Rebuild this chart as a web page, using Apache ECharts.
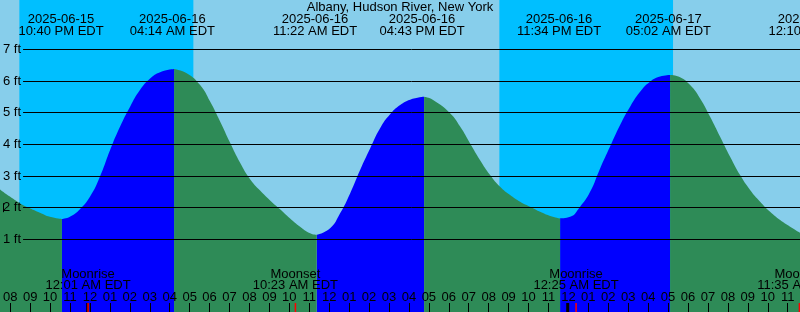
<!DOCTYPE html>
<html><head><meta charset="utf-8">
<script src="https://cdn.jsdelivr.net/npm/echarts@6/dist/echarts.min.js"></script>
<style>html,body{margin:0;padding:0;background:#87CEEB}#c{width:800px;height:312px}</style>
</head><body><div id="c"></div>
<script>
// ---------------- data ----------------
const stationTitle = 'Albany, Hudson River, New York';
// hours are measured from 2025-06-16 00:00 EDT
const viewStartHour = -4.385;   // left edge of the chart
const viewEndHour = 35.615;     // right edge of the chart
const firstHourTick = -4;
const lastHourTick = 35;
const levelTicks = [1, 7];      // first / last labelled level (ft)

// tide curve: time (h) and height (ft)
const tideHours = [
  -4.39, -3.89, -3.39, -2.89, -2.39, -1.89, -1.29, -0.89, -0.39, 0.12,
  0.62, 1.12, 1.62, 2.12, 2.62, 3.12, 3.62, 4.32, 4.97, 5.62,
  6.12, 6.62, 7.12, 7.62, 8.12, 8.62, 9.12, 9.62, 10.12, 10.62,
  11.12, 11.45, 12.12, 12.62, 13.12, 13.62, 14.12, 14.62, 15.12, 15.62,
  16.12, 16.82, 17.27, 18.12, 18.62, 19.12, 19.62, 20.12, 20.62, 21.12,
  21.62, 22.12, 22.62, 23.12, 23.62, 24.12, 24.62, 25.12, 25.62, 26.12,
  26.62, 27.12, 27.62, 28.12, 28.62, 29.12, 29.62, 30.12, 30.62, 31.12,
  31.62, 32.12, 32.62, 33.12, 33.62, 34.12, 34.62, 35.12, 35.62
];
const tideFeet = [
  2.58, 2.35, 2.14, 1.98, 1.84, 1.71, 1.64, 1.71, 1.95, 2.35,
  2.99, 3.82, 4.56, 5.19, 5.72, 6.08, 6.28, 6.38, 6.24, 5.87,
  5.35, 4.72, 4.05, 3.42, 2.90, 2.54, 2.23, 1.95, 1.66, 1.40,
  1.19, 1.14, 1.35, 1.82, 2.45, 3.19, 3.87, 4.51, 4.95, 5.24,
  5.41, 5.50, 5.40, 4.98, 4.56, 4.03, 3.50, 3.03, 2.66, 2.40,
  2.19, 2.03, 1.87, 1.74, 1.66, 1.71, 2.03, 2.50, 3.24, 3.93,
  4.61, 5.19, 5.66, 5.98, 6.14, 6.19, 6.12, 5.87, 5.45, 4.87,
  4.24, 3.61, 3.03, 2.56, 2.19, 1.87, 1.61, 1.40, 1.21
];

// high / low tide events
const extremeDates = ['2025-06-15', '2025-06-16', '2025-06-16', '2025-06-16', '2025-06-16', '2025-06-17', '2025-06-17'];
const extremeTimes = ['10:40 PM EDT', '04:14 AM EDT', '11:22 AM EDT', '04:43 PM EDT', '11:34 PM EDT', '05:02 AM EDT', '12:10 PM EDT'];

// moon events
const moonNames = ['Moonrise', 'Moonset', 'Moonrise', 'Moonset'];
const moonDates = ['2025-06-16', '2025-06-16', '2025-06-17', '2025-06-17'];
const moonTimes = ['12:01 AM EDT', '10:23 AM EDT', '12:25 AM EDT', '11:35 AM EDT'];

// night (sunset -> sunrise)
const nightStartDates = ['2025-06-15', '2025-06-16'];
const nightStartTimes = ['08:35 PM', '08:35 PM'];
const nightEndDates = ['2025-06-16', '2025-06-17'];
const nightEndTimes = ['05:17 AM', '05:16 AM'];

// day boundaries (midnight ticks)
const midnightDates = ['2025-06-16', '2025-06-17'];

// mark
const markDate = '2025-06-15';
const markTime = '07:47 PM';
const markLevel = 2;

// ---------------- helpers ----------------
function toHours(date, time) {
  const p = date.split('-').map(Number);
  const dayH = (Date.UTC(p[0], p[1] - 1, p[2]) - Date.UTC(2025, 5, 16)) / 3600000;
  if (!time) return dayH;
  const m = time.match(/(\d+):(\d+)\s*(AM|PM)/);
  let h = (+m[1]) % 12;
  if (m[3] === 'PM') h += 12;
  return dayH + h + (+m[2]) / 60;
}
const FONT = '13px "Liberation Sans", Arial, sans-serif';
const FT_PX = 31.667, ZERO_Y = 271, H = 312;

const n = tideHours.length;
const rising = [], falling = [];
for (let i = 0; i < n; i++) {
  const upNext = i < n - 1 ? tideFeet[i + 1] > tideFeet[i] : tideFeet[i] > tideFeet[i - 1];
  const upPrev = i > 0 ? tideFeet[i] > tideFeet[i - 1] : upNext;
  rising.push([tideHours[i], (upNext || upPrev) ? tideFeet[i] : '-']);
  falling.push([tideHours[i], (!upNext || !upPrev) ? tideFeet[i] : '-']);
}
const nights = nightStartDates.map((d, i) => [toHours(d, nightStartTimes[i]), toHours(nightEndDates[i], nightEndTimes[i])]);
const extremes = extremeDates.map((d, i) => [toHours(d, extremeTimes[i]), 0]);
const moons = moonDates.map((d, i) => [toHours(d, moonTimes[i]), 0]);
const midnights = midnightDates.map(d => [toHours(d), 0]);

const chart = echarts.init(document.getElementById('c'), null, { renderer: 'canvas' });
const yMax = ZERO_Y / FT_PX, yMin = -(H - ZERO_Y) / FT_PX;

const option = {
  backgroundColor: '#87CEEB',
  animation: false,
  title: {
    text: stationTitle, left: 'center', top: 1, padding: 0,
    textStyle: { fontSize: 13, fontWeight: 'normal', fontFamily: '"Liberation Sans", Arial, sans-serif', color: '#000' }
  },
  grid: [
    { left: 0, right: 0, top: 0, bottom: 0 },
    { left: 22, right: 0, top: ZERO_Y - levelTicks[1] * FT_PX, bottom: H - (ZERO_Y - levelTicks[0] * FT_PX) },
    { left: 87.7 + firstHourTick * 20, right: 800 - (87.7 + lastHourTick * 20), top: 100, bottom: 0 }
  ],
  xAxis: [
    { gridIndex: 0, type: 'value', min: viewStartHour, max: viewEndHour, show: false },
    { gridIndex: 1, type: 'value', min: viewStartHour, max: viewEndHour, show: false },
    {
      gridIndex: 2, type: 'value', min: firstHourTick, max: lastHourTick, interval: 1, z: 10,
      position: 'bottom',
      axisLine: { show: false },
      splitLine: { show: false },
      axisTick: { show: true, inside: true, length: 9, lineStyle: { color: '#000', width: 1 } },
      axisLabel: {
        show: true, inside: true, margin: 8, color: '#000', fontSize: 13,
        fontFamily: '"Liberation Sans", Arial, sans-serif', showMinLabel: true, showMaxLabel: true,
        formatter: v => { const h = ((v % 12) + 12) % 12 || 12; return (h < 10 ? '0' : '') + h; }
      }
    }
  ],
  yAxis: [
    { gridIndex: 0, type: 'value', min: yMin, max: yMax, show: false },
    {
      gridIndex: 1, type: 'value', min: levelTicks[0], max: levelTicks[1], interval: 1, z: 10,
      axisLine: { show: false }, axisTick: { show: false },
      splitLine: { show: true, lineStyle: { color: '#000', width: 1 } },
      axisLabel: {
        margin: 2, color: '#000', fontSize: 13, fontFamily: '"Liberation Sans", Arial, sans-serif',
        formatter: '{value} ft'
      }
    },
    { gridIndex: 2, type: 'value', show: false, min: 0, max: 1 }
  ],
  series: [
    {
      name: 'night', type: 'custom', xAxisIndex: 0, yAxisIndex: 0, z: 1, silent: true,
      data: nights,
      renderItem(params, api) {
        const x0 = api.coord([api.value(0), 0])[0];
        const x1 = api.coord([api.value(1), 0])[0];
        return { type: 'rect', shape: { x: x0, y: 0, width: x1 - x0, height: H }, style: { fill: '#00BFFF' } };
      }
    },
    {
      name: 'rising', type: 'line', xAxisIndex: 0, yAxisIndex: 0, z: 2, silent: true,
      data: rising, symbol: 'none', smooth: 0.5, connectNulls: false,
      lineStyle: { width: 0, opacity: 0 },
      areaStyle: { color: '#0000FF', opacity: 1, origin: 'start' }
    },
    {
      name: 'falling', type: 'line', xAxisIndex: 0, yAxisIndex: 0, z: 2, silent: true,
      data: falling, symbol: 'none', smooth: 0.5, connectNulls: false,
      lineStyle: { width: 0, opacity: 0 },
      areaStyle: { color: '#2E8B57', opacity: 1, origin: 'start' }
    },
    {
      name: 'extremes', type: 'custom', xAxisIndex: 0, yAxisIndex: 0, z: 6, silent: true, clip: false,
      data: extremes,
      renderItem(params, api) {
        const x = api.coord([api.value(0), 0])[0];
        const i = params.dataIndex;
        return {
          type: 'group', children: [
            { type: 'text', style: { x, y: 19.5, text: extremeDates[i], align: 'center', verticalAlign: 'middle', font: FONT, fill: '#000' } },
            { type: 'text', style: { x, y: 31.3, text: extremeTimes[i], align: 'center', verticalAlign: 'middle', font: FONT, fill: '#000' } }
          ]
        };
      }
    },
    {
      name: 'midnight', type: 'custom', xAxisIndex: 0, yAxisIndex: 0, z: 11, silent: true,
      data: midnights,
      renderItem(params, api) {
        const x = api.coord([api.value(0), 0])[0];
        return { type: 'rect', shape: { x: x - 1.5, y: H - 9, width: 3, height: 9 }, style: { fill: '#000' } };
      }
    },
    {
      name: 'moon', type: 'custom', xAxisIndex: 0, yAxisIndex: 0, z: 12, silent: true, clip: false,
      data: moons,
      renderItem(params, api) {
        const x = api.coord([api.value(0), 0])[0];
        const i = params.dataIndex;
        return {
          type: 'group', children: [
            { type: 'text', style: { x, y: 274, text: moonNames[i], align: 'center', verticalAlign: 'middle', font: FONT, fill: '#000' } },
            { type: 'text', style: { x, y: 285.5, text: moonTimes[i], align: 'center', verticalAlign: 'middle', font: FONT, fill: '#000' } },
            { type: 'rect', shape: { x: x - 0.7, y: H - 9, width: 1.5, height: 9 }, style: { fill: '#FF0000' } }
          ]
        };
      }
    },
    {
      name: 'mark', type: 'custom', xAxisIndex: 0, yAxisIndex: 0, z: 12, silent: true,
      data: [[toHours(markDate, markTime), markLevel]],
      renderItem(params, api) {
        const p = api.coord([api.value(0), api.value(1)]);
        return { type: 'line', shape: { x1: Math.round(p[0]) + 0.5, y1: p[1] - 4.5, x2: Math.round(p[0]) + 0.5, y2: p[1] + 4.5 }, style: { stroke: '#000', lineWidth: 1 } };
      }
    }
  ]
};
chart.setOption(option);
</script></body></html>
